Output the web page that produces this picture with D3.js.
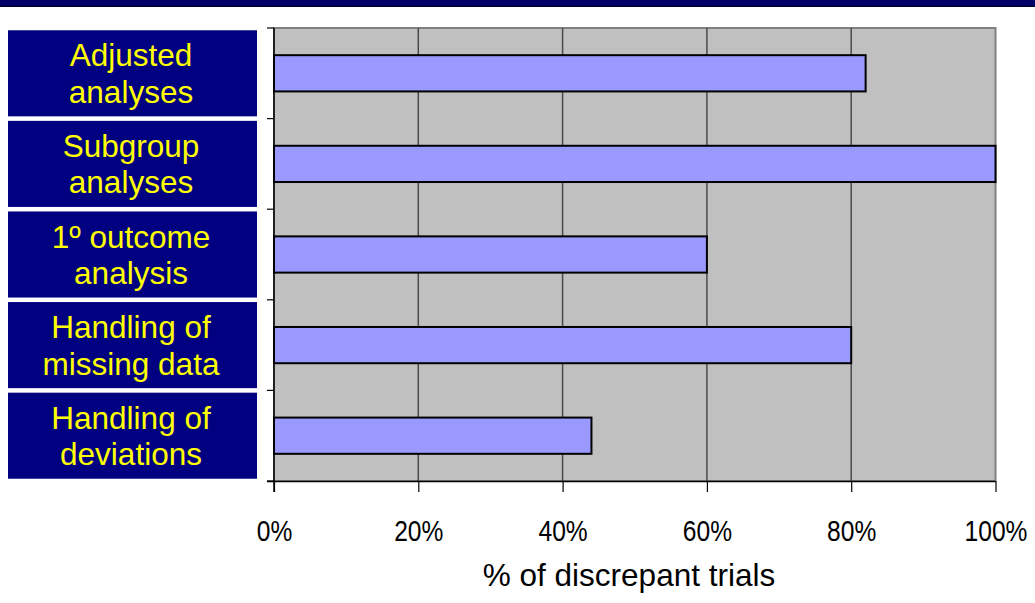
<!DOCTYPE html>
<meta charset="utf-8">
<title>Discrepant trials</title>
<html>
<style>
body { margin: 0; background: #fff; }
svg { display: block; font-family: Arial, "Liberation Sans", sans-serif; }
</style>
<body>
<svg width="1035" height="603"></svg>
<script src="https://cdn.jsdelivr.net/npm/d3@7/dist/d3.min.js"></script>
<script>
// values
var categories = ["Adjusted analyses", "Subgroup analyses", "1º outcome analysis",
                  "Handling of missing data", "Handling of deviations"];
var labelLines = [["Adjusted", "analyses"], ["Subgroup", "analyses"], ["1º outcome", "analysis"],
                  ["Handling of", "missing data"], ["Handling of", "deviations"]];
var values = [0.82, 1.00, 0.60, 0.80, 0.44];
var xTicks = [0, 0.2, 0.4, 0.6, 0.8, 1.0];

function drawChart() {
  var svg = d3.select("svg");
  var pLeft = 274, pRight = 995.5, pTop = 28, pBottom = 481;

  var x = d3.scaleLinear().domain([0, 1]).range([pLeft, pRight]);
  var y = d3.scaleBand().domain(categories).range([pTop, pBottom])
    .paddingInner(0.6).paddingOuter(0.3);
  var yBox = d3.scaleBand().domain(categories).range([pTop, pBottom])
    .paddingInner(0.05).paddingOuter(0.025);

  // top banner
  svg.append("rect").attr("x", 0).attr("y", 0).attr("width", 1035).attr("height", 7).attr("fill", "#000066");
  svg.append("line").attr("x1", 0).attr("x2", 1035).attr("y1", 6.5).attr("y2", 6.5)
    .attr("stroke", "#000022").attr("stroke-width", 1.2);

  // plot area
  svg.append("rect").attr("x", pLeft).attr("y", pTop).attr("width", pRight - pLeft).attr("height", pBottom - pTop)
    .attr("fill", "#c0c0c0").attr("stroke", "#808080").attr("stroke-width", 2);

  // gridlines
  svg.append("g").selectAll("line").data(xTicks.slice(1, -1)).enter().append("line")
    .attr("x1", function(d) { return x(d); }).attr("x2", function(d) { return x(d); })
    .attr("y1", pTop).attr("y2", pBottom)
    .attr("stroke", "#4a4a4a").attr("stroke-width", 1.5);

  // bars
  svg.append("g").selectAll("rect").data(categories).enter().append("rect")
    .attr("x", x(0))
    .attr("y", function(d) { return y(d); })
    .attr("width", function(d, i) { return x(values[i]) - x(0); })
    .attr("height", y.bandwidth())
    .attr("fill", "#9999ff")
    .attr("stroke", "#000").attr("stroke-width", 2);

  // left axis: ticks at category boundaries
  var bounds = categories.map(function(d) { return y(d) - y.step() * y.paddingInner() / 2; });
  bounds.push(pBottom);
  var gy = svg.append("g");
  gy.append("line").attr("x1", pLeft).attr("x2", pLeft).attr("y1", pTop).attr("y2", pBottom + 11)
    .attr("stroke", "#000").attr("stroke-width", 1.5);
  gy.selectAll(".tk").data(bounds).enter().append("line")
    .attr("x1", pLeft - 7).attr("x2", pLeft).attr("y1", function(d) { return d; }).attr("y2", function(d) { return d; })
    .attr("stroke", "#000").attr("stroke-width", 1.2);

  // bottom axis
  var gx = svg.append("g").attr("transform", "translate(0," + pBottom + ")")
    .call(d3.axisBottom(x).tickValues(xTicks).tickFormat(d3.format(".0%")).tickSize(11).tickPadding(28).tickSizeOuter(0));
  gx.select(".domain").attr("stroke", "#000").attr("stroke-width", 1.5)
    .attr("d", "M" + (pLeft - 7) + ",0.5H" + pRight);
  gx.selectAll(".tick line").attr("stroke", "#000").attr("stroke-width", 1.2);
  gx.selectAll(".tick text")
    .attr("font-family", "Arial, 'Liberation Sans', sans-serif")
    .attr("font-size", 30).attr("fill", "#000")
    .attr("transform", "scale(0.82,1)");

  svg.append("text").attr("x", 629).attr("y", 586).attr("text-anchor", "middle")
    .attr("font-size", 31.5).attr("fill", "#000").text("% of discrepant trials");

  // category label boxes
  var boxes = svg.append("g").selectAll("g").data(categories).enter().append("g");
  boxes.append("rect").attr("x", 8).attr("width", 249)
    .attr("y", function(d) { return yBox(d); })
    .attr("height", yBox.bandwidth())
    .attr("fill", "#000080");
  boxes.each(function(d, i) {
    var cy = yBox(d) + yBox.bandwidth() / 2;
    d3.select(this).selectAll("text").data(labelLines[i]).enter().append("text")
      .attr("x", 131)
      .attr("y", function(t, j) { return cy - 7 + j * 36.5; })
      .attr("text-anchor", "middle")
      .attr("font-size", 31.5).attr("fill", "#ffff00")
      .text(function(t) { return t; });
  });
}

drawChart();
</script>
</body>
</html>
